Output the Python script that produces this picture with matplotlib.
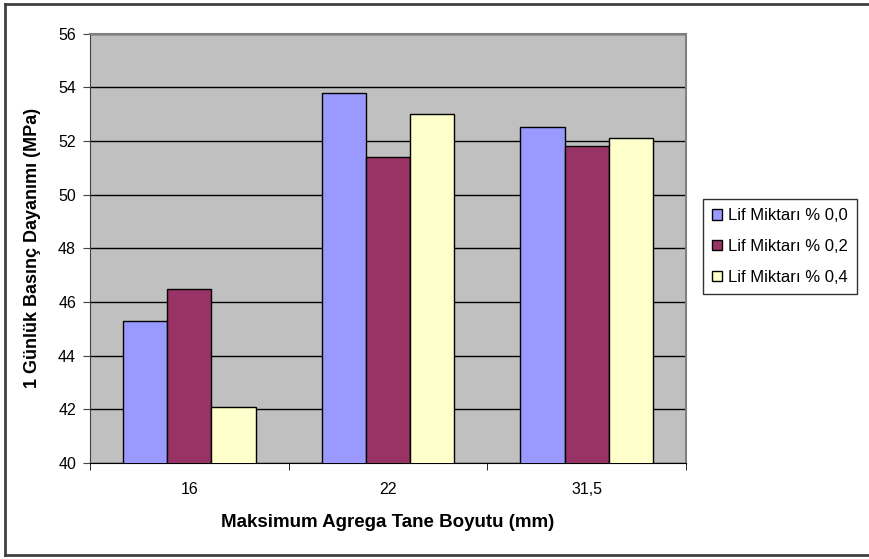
import matplotlib
matplotlib.use("Agg")
import matplotlib.pyplot as plt
import numpy as np
from matplotlib.lines import Line2D

plt.rcParams['font.family'] = ['Liberation Sans', 'DejaVu Sans']

categories = ["16", "22", "31,5"]
series_names = ["Lif Miktarı % 0,0", "Lif Miktarı % 0,2", "Lif Miktarı % 0,4"]
lif_00 = [45.3, 53.8, 52.5]
lif_02 = [46.5, 51.4, 51.8]
lif_04 = [42.1, 53.0, 52.1]
colors = ["#9999FF", "#993366", "#FFFFCC"]
y_ticks = [40, 42, 44, 46, 48, 50, 52, 54, 56]

fig = plt.figure(figsize=(8.69, 5.59), dpi=100)
ax = fig.add_axes([90 / 869, 1 - 463 / 559, 596 / 869, 429.5 / 559])
ax.set_facecolor("#C0C0C0")

x = np.arange(len(categories))
width = 1 / 4.5
for i, (vals, name, col) in enumerate(zip([lif_00, lif_02, lif_04], series_names, colors)):
    ax.bar(x + (i - 1) * width, vals, width, color=col, edgecolor="black",
           linewidth=1.0, label=name, zorder=3)

ax.set_xlim(-0.5, len(categories) - 0.5)
ax.set_ylim(40, 56)
ax.set_yticks(y_ticks)
ax.set_yticklabels([str(v) for v in y_ticks], fontsize=11.5)
ax.yaxis.grid(True, color="black", linewidth=1.0, zorder=1)
ax.set_axisbelow(True)

ax.set_xticks(x)
ax.set_xticklabels(categories, fontsize=11.5)
ax.tick_params(axis="x", which="major", length=0, pad=14)
ax.set_xticks(np.arange(-0.5, len(categories), 1.0), minor=True)
ax.tick_params(axis="x", which="minor", length=5, direction="out", color="black")
ax.tick_params(axis="y", length=5, direction="out", color="#404040", pad=5)

for side in ["top", "right"]:
    ax.spines[side].set_color("#808080")
    ax.spines[side].set_linewidth(1.5)
ax.spines["left"].set_color("#404040")
ax.spines["bottom"].set_color("black")

ax.set_ylabel("1 Günlük Basınç Dayanımı (MPa)", fontsize=13, fontweight="bold", labelpad=12)
ax.set_xlabel("Maksimum Agrega Tane Boyutu (mm)", fontsize=13.5, fontweight="bold", labelpad=12)

handles, labels = ax.get_legend_handles_labels()
leg = fig.legend(handles, labels, loc="upper left",
                 bbox_to_anchor=(703 / 869, 1 - 199 / 559),
                 frameon=True, fancybox=False, fontsize=12,
                 handlelength=0.6, handleheight=0.6, handletextpad=0.35,
                 labelspacing=0.95, borderpad=0.55, borderaxespad=0)
leg.get_frame().set_edgecolor("black")
leg.get_frame().set_linewidth(1.0)

# outer chart frame
fx0, fy0, fy1 = 5 / 869, 1 - 555 / 559, 1 - 4 / 559
frame_kw = dict(transform=fig.transFigure, color="#404040", linewidth=2.0)
fig.add_artist(Line2D([fx0, 1.0], [fy1, fy1], **frame_kw))
fig.add_artist(Line2D([fx0, fx0], [fy0, fy1], **frame_kw))
fig.add_artist(Line2D([fx0, 1.0], [fy0, fy0], **frame_kw))

fig.savefig("out.png", dpi=100, facecolor="white")
